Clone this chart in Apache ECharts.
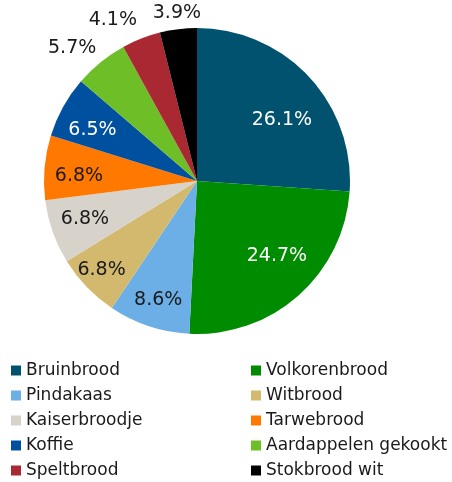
<!DOCTYPE html>
<html>
<head>
<meta charset="utf-8">
<script src="https://cdn.jsdelivr.net/npm/echarts@6/dist/echarts.min.js"></script>
<style>
  html, body { margin: 0; padding: 0; background: #fff; }
  #chart { width: 452px; height: 482px; }
</style>
</head>
<body>
<div id="chart"></div>
<script>
// Broodsoorten en andere producten: aandeel (%)
const categories = ['Bruinbrood', 'Volkorenbrood', 'Pindakaas', 'Witbrood', 'Kaiserbroodje',
  'Tarwebrood', 'Koffie', 'Aardappelen gekookt', 'Speltbrood', 'Stokbrood wit'];
const shares = [26.1, 24.7, 8.6, 6.8, 6.8, 6.8, 6.5, 5.7, 4.1, 3.9];
const colors = ['#00526e', '#008c00', '#6cafe6', '#d2b96e', '#d7d3ca',
  '#ff7800', '#0050a0', '#6ebe28', '#aa2832', '#000000'];

const FONT = 'DejaVu Sans';
const CX = 197, CY = 181, R = 153;
const whiteText = new Set([0, 1, 6]);
// label placement per slice: distance from centre (fraction of radius) and angular nudge (deg)
const labelDist = [0.684, 0.717, 0.818, 0.853, 0.773, 0.772, 0.76, 1.193, 1.187, 1.106];
const labelNudge = [7.3, -5.2, -0.3, 0.9, 0.7, -2.6, -3.0, -4.1, -6.2, 0.2];

const total = shares.reduce((a, b) => a + b, 0);
// mid-angle of each slice, clockwise from 12 o'clock (degrees)
const midAngles = [];
let cum = 0;
shares.forEach(v => { midAngles.push((cum + v / 2) / total * 360); cum += v; });

const leftIdx = [0, 2, 4, 6, 8];
const rightIdx = [1, 3, 5, 7, 9];

const chart = echarts.init(document.getElementById('chart'), null, { renderer: 'canvas' });

function legendFor(idx, left) {
  return {
    orient: 'vertical',
    left: left,
    top: 362,
    icon: 'rect',
    itemWidth: 10,
    itemHeight: 10,
    itemGap: 8,
    padding: 0,
    selectedMode: false,
    data: idx.map(i => categories[i]),
    textStyle: { fontFamily: FONT, fontSize: 17, lineHeight: 17, color: '#1a1a1a', padding: [0, 0, 0, 0] }
  };
}

chart.setOption({
  animation: false,
  color: colors,
  legend: [legendFor(leftIdx, 11), legendFor(rightIdx, 251)],
  series: [{
    type: 'pie',
    center: [CX, CY],
    radius: R,
    startAngle: 90,
    clockwise: true,
    avoidLabelOverlap: false,
    labelLine: { show: false },
    itemStyle: { borderWidth: 0 },
    emphasis: { disabled: true },
    data: categories.map((c, i) => ({
      name: c,
      value: shares[i],
      label: { color: whiteText.has(i) ? '#ffffff' : '#1a1a1a' }
    })),
    label: {
      show: true,
      position: 'inside',
      fontFamily: FONT,
      fontSize: 19,
      formatter: p => shares[p.dataIndex].toFixed(1) + '%'
    },
    labelLayout: function (p) {
      const i = p.dataIndex;
      const a = (midAngles[i] + labelNudge[i]) * Math.PI / 180;
      const d = R * labelDist[i];
      return {
        x: CX + Math.sin(a) * d,
        y: CY - Math.cos(a) * d,
        align: 'center',
        verticalAlign: 'middle'
      };
    }
  }]
});
</script>
</body>
</html>
